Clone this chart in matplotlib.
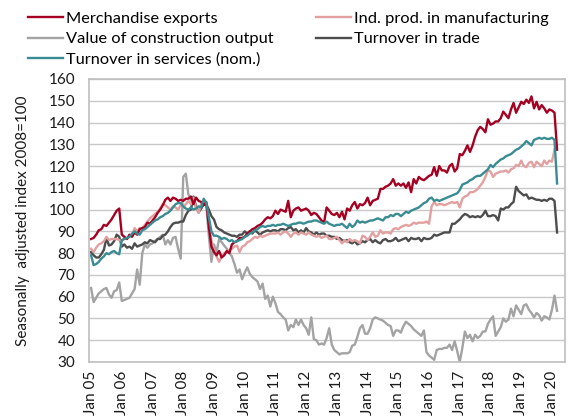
import numpy as np
import matplotlib
matplotlib.use('Agg')
import matplotlib.pyplot as plt

plt.rcParams['font.family'] = ['Lato', 'DejaVu Sans']

# monthly, Jan 2005 onwards (2008 = 100)
exports = sum([
    [86.5, 87, 88.5, 90.5, 91, 93, 92.5, 94, 95.5, 97.5, 99.5, 100.5],
    [88.5, 87.5, 86.5, 88.5, 87.5, 89.5, 88.5, 91, 91.5, 92, 94, 93.5],
    [95, 96.5, 98.5, 100, 102, 104.5, 105.5, 104, 105.5, 105, 104, 104.5],
    [104, 105, 105, 106, 102.5, 105.5, 104, 103.5, 102, 103.5, 92, 83],
    [80.5, 79, 81, 78, 79, 81, 80, 84, 85, 85.5, 87, 87],
    [87.5, 89, 90, 91, 91.5, 92.5, 93, 94, 95.5, 96.5, 96, 97],
    [99.5, 98, 100, 99.5, 99, 104, 96.5, 99.5, 100.5, 101, 99.5, 100],
    [100.5, 99.5, 97.5, 98.5, 98, 96.5, 95, 94, 101, 99.5, 98, 97.5],
    [98.5, 96.5, 99, 95.5, 100.5, 99.5, 102, 103.5, 100.5, 102.5, 102, 103],
    [105.5, 102, 104, 104.5, 105, 109.5, 109.5, 110.5, 111, 112, 114, 111],
    [112, 111, 112, 110, 112.5, 108, 114, 112, 115, 114, 113.5, 114.5],
    [115.5, 116, 119.5, 115.5, 120, 118, 118, 117, 120, 121, 117.5, 119],
    [125.5, 125, 127, 129.5, 126.5, 129.5, 133.5, 136.5, 138, 137, 135.5, 141.5],
    [139, 139.5, 140.5, 140.5, 142, 145, 143.5, 142, 146, 149, 144.5, 147],
    [149.5, 148.5, 150.5, 149, 152, 146.5, 149.5, 146, 148, 146.5, 144.5, 146],
    [145.5, 144.5, 127.5],
], [])

manufacturing = sum([
    [82, 80.5, 82.5, 84, 84.5, 85.5, 87.5, 86, 86.5, 86.5, 86.5, 86],
    [85.5, 87, 86.5, 87.5, 88, 91.5, 90, 91.5, 91.5, 93, 94.5, 96],
    [97, 98, 99, 100.5, 102.5, 102, 101, 100, 101.5, 101, 100, 102],
    [101, 102.5, 104, 102.5, 105.5, 100.5, 98.5, 102.5, 104, 103, 95, 86],
    [81, 78.5, 76, 78.5, 80, 80.5, 81.5, 82, 83, 83.5, 80.5, 83],
    [83.5, 85, 85.5, 86.5, 87.5, 87, 88, 87.5, 88, 88.5, 89, 89],
    [89, 89.5, 88.5, 89.5, 90, 89, 87.5, 89, 89.5, 88.5, 89.5, 89],
    [88.5, 89.5, 88.5, 88, 87.5, 88, 87, 87.5, 88, 86.5, 86.5, 87],
    [87.5, 86, 84.5, 86, 85, 86.5, 85.5, 86, 85.5, 84.5, 88, 87.5],
    [86, 87.5, 89.5, 87.5, 88, 90.5, 89, 89.5, 89.5, 89, 91, 91.5],
    [91, 92, 92.5, 93, 92.5, 93, 94, 93.5, 94, 94, 94, 94.5],
    [93.5, 101.5, 103.5, 102, 102.5, 102.5, 102, 102.5, 103, 103.5, 103, 103.5],
    [101, 105, 106, 106.5, 108, 108, 108.5, 109.5, 111, 112.5, 115, 118],
    [117.5, 115, 116.5, 117, 117.5, 117.5, 118, 117, 118.5, 119, 120.5, 120],
    [122.5, 120, 119.5, 121.5, 122, 119.5, 122, 121, 120, 122.5, 121, 122.5],
    [122, 127.5],
], [])

construction = sum([
    [64, 57.5, 59.5, 61.5, 62.5, 63.5, 64, 61, 59.5, 62.5, 63, 66.5],
    [58, 58.5, 59, 59.5, 61.5, 63.5, 72.5, 65.5, 80, 84, 82.5, 84],
    [84.5, 85.5, 86.5, 87.5, 88.5, 84, 86, 84, 87, 87.5, 82, 77.5],
    [115, 116.5, 107, 104.5, 105.5, 102, 98.5, 100.5, 104, 102, 88, 76],
    [84, 80.5, 86.5, 85, 83.5, 82, 80, 78.5, 75, 71, 72.5, 68],
    [71, 73.5, 70.5, 69, 68, 67, 63.5, 66, 59, 60.5, 55.5, 60],
    [57, 53, 52, 50.5, 49.5, 44.5, 47, 46, 49.5, 47, 49.5, 47],
    [45.5, 42.5, 50.5, 40.5, 40, 38, 38.5, 38, 41, 45.5, 38, 35.5],
    [34.5, 33.5, 34, 34, 34, 34.5, 37.5, 38, 41.5, 45.5, 47, 43],
    [43, 45.5, 49.5, 50.5, 50, 49.5, 49, 48, 47, 46.5, 42, 44.5],
    [44.5, 43.5, 46.5, 48.5, 47.5, 46.5, 45, 44, 43, 42, 44.5, 34.5],
    [33, 32, 31, 35.5, 36, 36, 36.5, 36.5, 38, 35.5, 39.5, 35],
    [30, 36.5, 44, 41, 42.5, 39.5, 42.5, 41, 42, 44, 44, 47.5],
    [49.5, 51, 42, 44, 46, 50, 48.5, 49.5, 54.5, 51, 56, 54],
    [52, 56, 56.5, 54, 52.5, 50.5, 52.5, 51.5, 49, 51, 50.5, 49.5],
    [54, 60.5, 53.5],
], [])

trade = sum([
    [80.5, 79, 78, 78, 79.5, 81.5, 87, 83.5, 84, 85.5, 88.5, 87.5],
    [83, 84, 82.5, 83, 82, 84.5, 83, 83.5, 84, 85, 84.5, 86],
    [85.5, 85, 86.5, 86.5, 88, 88.5, 90, 92, 93.5, 94, 94, 94.5],
    [94.5, 97.5, 99.5, 100, 106, 101, 99, 100.5, 102.5, 102.5, 100, 97],
    [95.5, 92, 91, 90.5, 89.5, 89, 88.5, 88, 88, 87.5, 88.5, 88.5],
    [90, 89, 90, 89, 90.5, 89.5, 88.5, 89.5, 90, 90.5, 90, 90.5],
    [90.5, 90, 91, 91, 90.5, 91.5, 92, 90.5, 91, 89.5, 90.5, 89.5],
    [91.5, 90, 89.5, 88.5, 89.5, 88.5, 89, 89, 88, 88, 87.5, 87.5],
    [86.5, 87, 86, 85.5, 86, 85, 84.5, 85.5, 84, 84.5, 85.5, 85],
    [86, 86.5, 85, 86, 85, 84.5, 86, 86.5, 85.5, 85.5, 86, 87],
    [85.5, 86, 86.5, 87, 85.5, 87, 86.5, 86.5, 87, 85.5, 87, 86.5],
    [86.5, 87, 88.5, 88, 88.5, 89, 89.5, 89.5, 89.5, 93.5, 93.5, 94.5],
    [95.5, 97, 98, 97.5, 96.5, 97, 96.5, 97, 96.5, 97.5, 99.5, 97],
    [97, 97.5, 97, 95, 100.5, 100, 101, 101, 102.5, 103.5, 110.5, 108.5],
    [107.5, 106.5, 107, 105, 105.5, 105, 104.5, 104.5, 104, 104.5, 104, 105],
    [105, 104, 89.5],
], [])

services = sum([
    [79, 74.5, 75, 76, 77.5, 78.5, 80, 79.5, 80.5, 81, 80, 79.5],
    [86, 86.5, 87, 87.5, 89, 90, 89, 88.5, 90.5, 91, 92, 93],
    [94, 95, 95.5, 96.5, 97, 98, 98.5, 99.5, 101, 102.5, 103, 103],
    [101.5, 100.5, 100, 101, 100, 100.5, 101.5, 101, 105, 103, 96.5, 90],
    [88, 88, 87.5, 86.5, 87, 86.5, 85.5, 86, 85, 85.5, 86, 86.5],
    [87.5, 88, 89, 89.5, 90.5, 91, 92, 92.5, 92, 92.5, 92.5, 93],
    [92.5, 93, 93, 93.5, 93, 92.5, 93, 93.5, 93.5, 94, 94, 93.5],
    [94, 94.5, 94.5, 95, 95, 94.5, 94, 93.5, 94.5, 93.5, 93, 92.5],
    [93, 93, 93.5, 92.5, 91.5, 93.5, 92, 93, 95, 94, 94.5, 94],
    [94.5, 95, 95, 95.5, 96, 95.5, 95, 96.5, 96.5, 97.5, 97, 98],
    [98, 97, 98, 99, 98.5, 99.5, 100, 100.5, 101, 102, 103, 103.5],
    [105, 105.5, 104, 104.5, 104, 104.5, 105, 105.5, 106, 106.5, 107, 107.5],
    [109, 111.5, 112, 112.5, 113.5, 114, 115, 115.5, 115.5, 116.5, 117.5, 118.5],
    [120.5, 119.5, 121, 122, 123, 123.5, 124.5, 125, 125.5, 126.5, 127.5, 128],
    [129, 130, 131.5, 130.5, 129.5, 132, 132.5, 133, 132.5, 133, 132.5, 132.5],
    [133, 132, 112],
], [])

tick_pos = np.arange(0, 181, 12)
tick_labels = ['Jan %02d' % y for y in range(5, 21)]

fig = plt.figure(figsize=(5.71, 4.17), dpi=100)
ax = fig.add_axes([0.1559, 0.1319, 0.8336, 0.6787])

lw = 1.7
l_con, = ax.plot(np.arange(len(construction)), construction, color='#A3A3A3', lw=lw)
l_tr, = ax.plot(np.arange(len(trade)), trade, color='#4D4D4D', lw=lw)
l_man, = ax.plot(np.arange(len(manufacturing)), manufacturing, color='#E2A0A0', lw=lw)
l_exp, = ax.plot(np.arange(len(exports)), exports, color='#A50021', lw=lw)
l_ser, = ax.plot(np.arange(len(services)), services, color='#3A8C93', lw=lw)

ax.set_ylim(30, 160)
ax.set_yticks(np.arange(30, 161, 10))
ax.set_xlim(-0.8, 185.1)
ax.set_xticks(tick_pos)
ax.set_xticklabels(tick_labels, rotation=90)
ax.tick_params(axis='both', length=0, labelsize=11, colors='#1a1a1a')
ax.tick_params(axis='y', pad=10)
ax.tick_params(axis='x', pad=6)
ax.yaxis.grid(True, color='#C8C8C8', lw=1)
ax.set_axisbelow(True)
for s in ['top', 'bottom', 'left', 'right']:
    ax.spines[s].set_color('#BFBFBF')
    ax.spines[s].set_linewidth(1.2)

ax.set_ylabel('Seasonally  adjusted index 2008=100', fontsize=11, color='#1a1a1a', labelpad=13)

fig.legend([l_exp, l_con, l_ser, l_man, l_tr],
           ['Merchandise exports', 'Value of construction output', 'Turnover in services (nom.)',
            'Ind. prod. in manufacturing', 'Turnover in trade'],
           ncol=2, loc='upper left', bbox_to_anchor=(0.032, 0.997), frameon=False,
           fontsize=11.8, handlelength=2.15, handletextpad=0.15, labelspacing=0.38,
           columnspacing=2.6, borderaxespad=0.2)

fig.savefig('out.png', dpi=100)
